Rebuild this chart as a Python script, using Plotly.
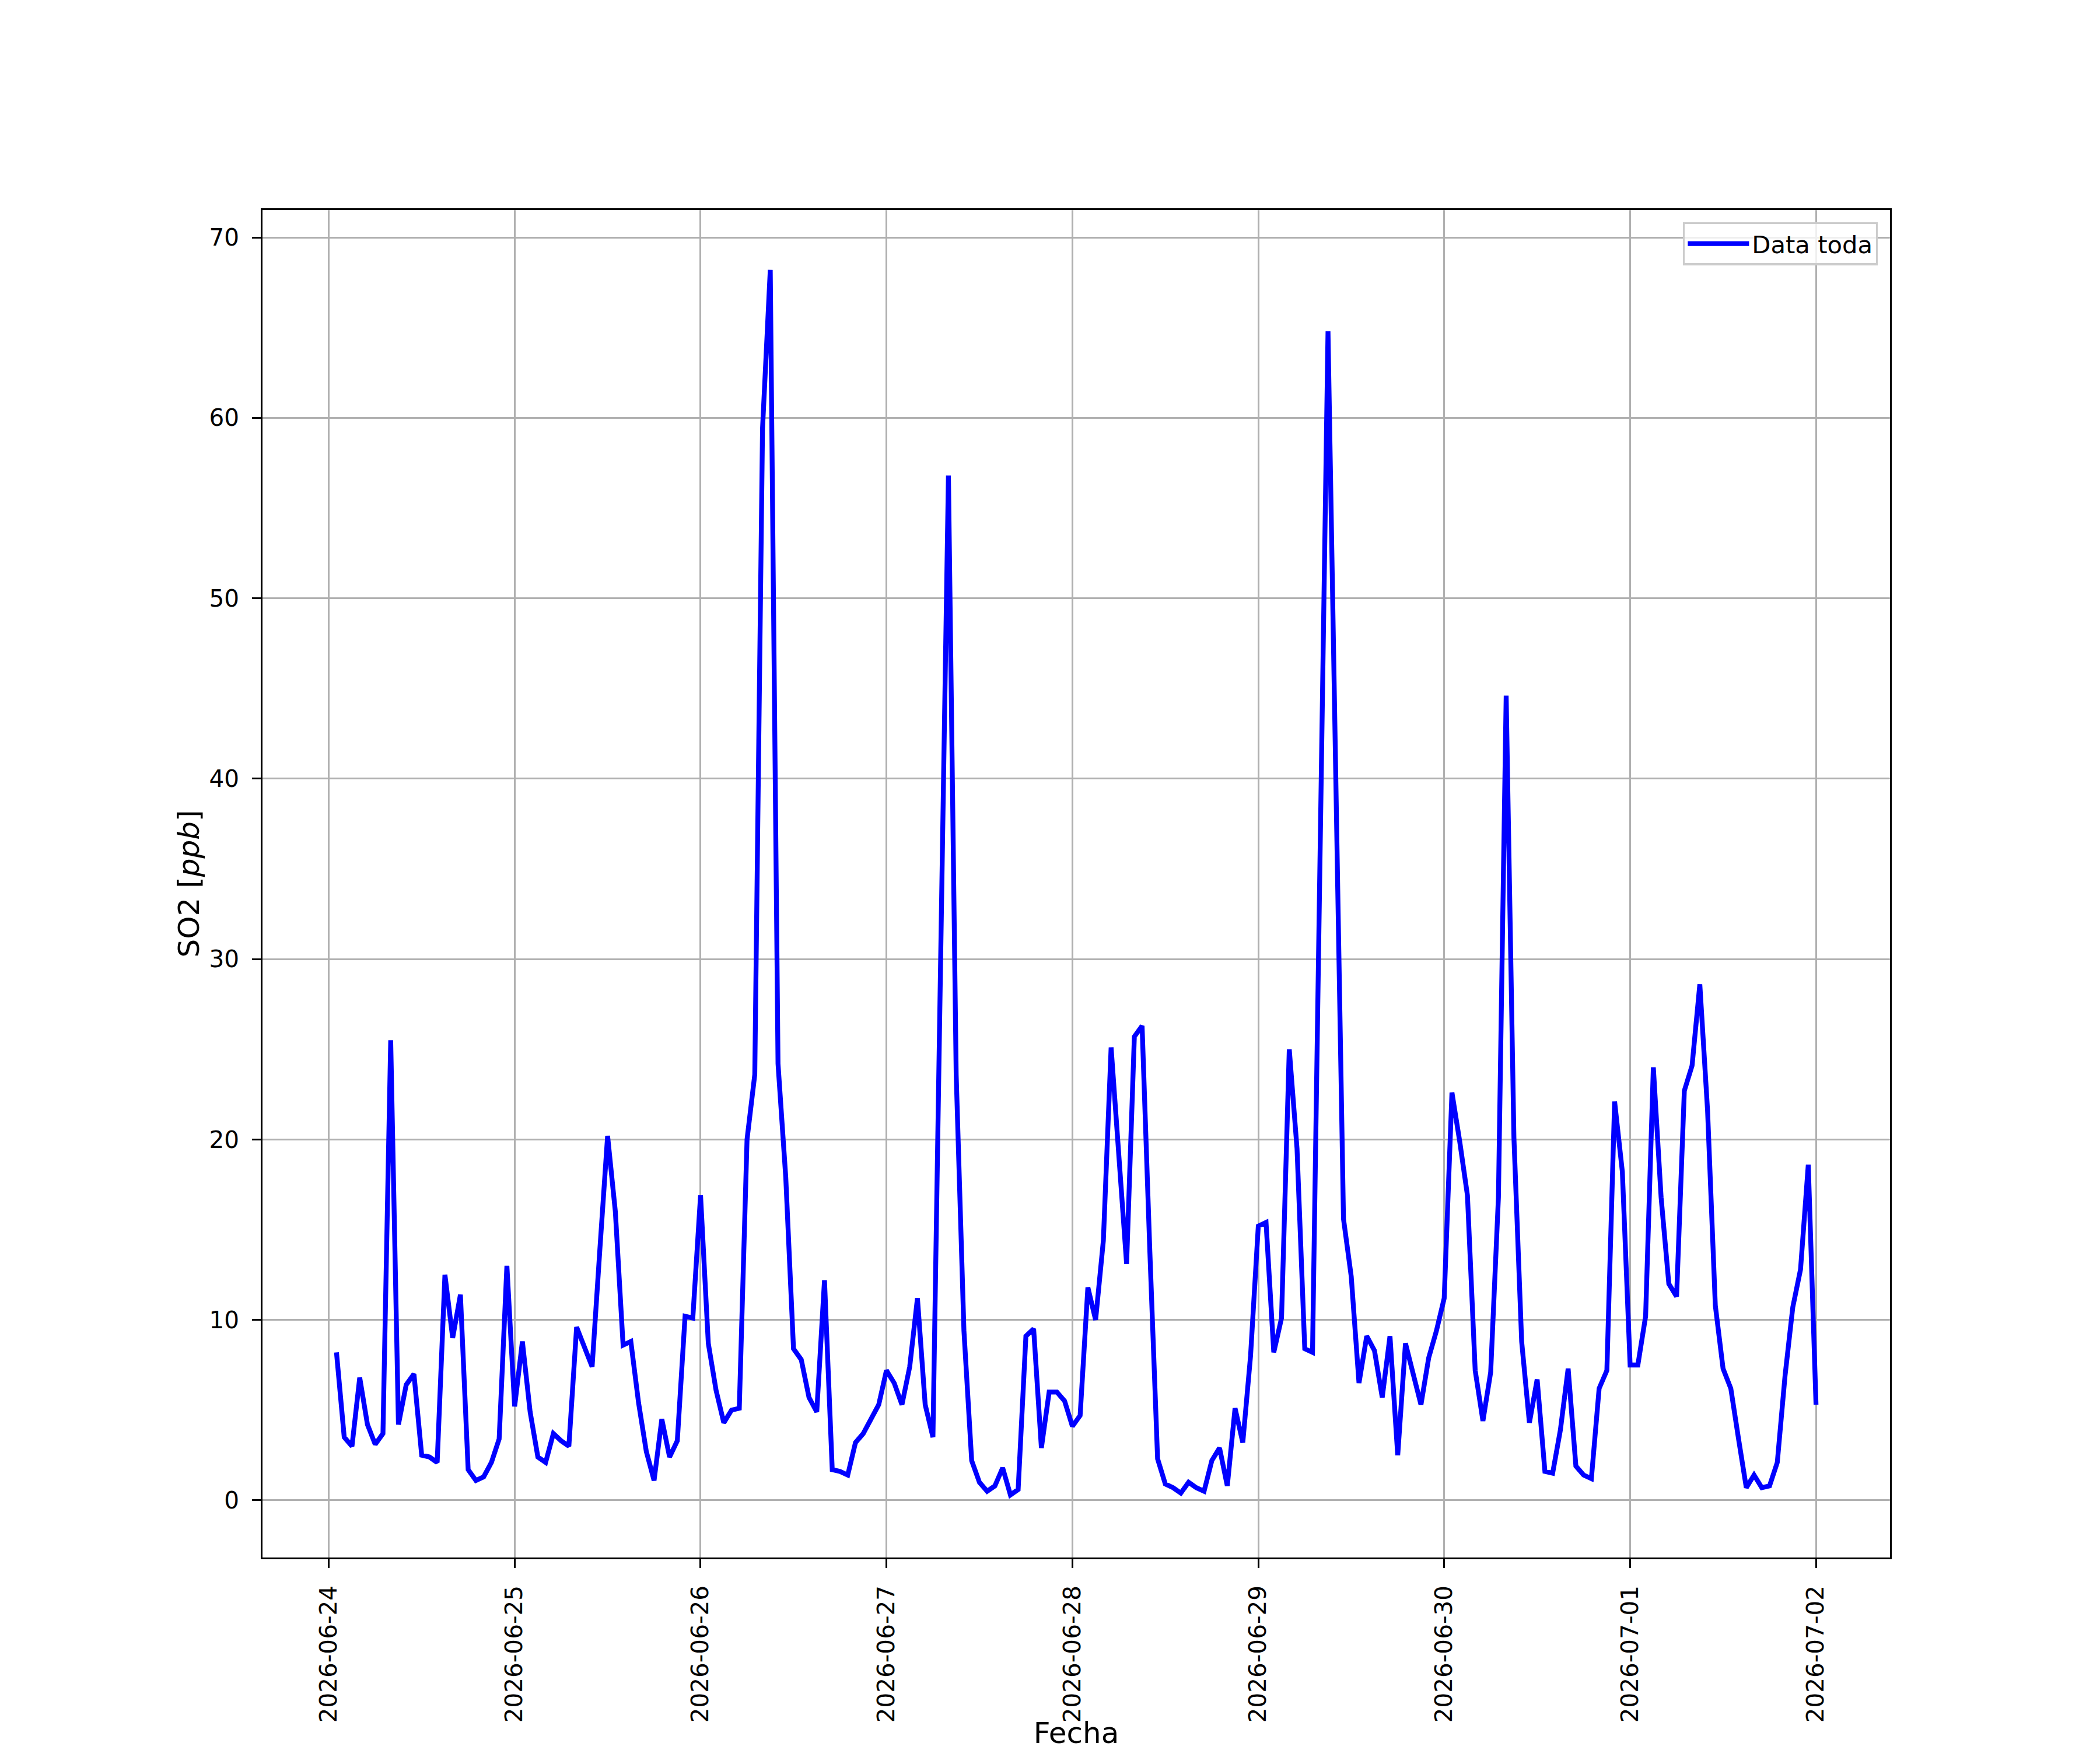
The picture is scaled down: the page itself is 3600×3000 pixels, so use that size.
import pandas as pd
import plotly.graph_objects as go

# hourly SO2 readings [ppb], first reading 2026-06-24 01:00
start_time = "2026-06-24 01:00"
so2_0624 = [8.2, 3.5, 3.0, 6.8, 4.2, 3.1, 3.7, 25.5, 4.2, 6.4, 7.0, 2.5,
            2.4, 2.1, 12.5, 9.0, 11.4, 1.7, 1.1, 1.3, 2.1, 3.4, 13.0]
so2_0625 = [5.2, 8.8, 4.9, 2.4, 2.1, 3.7, 3.3, 3.0, 9.6, 8.5, 7.4, 13.9,
            20.2, 16.0, 8.6, 8.8, 5.4, 2.7, 1.1, 4.5, 2.4, 3.3, 10.2, 10.1]
so2_0626 = [16.9, 8.7, 6.1, 4.3, 5.0, 5.1, 20.0, 23.6, 59.4, 68.2, 24.2, 17.9,
            8.4, 7.8, 5.7, 4.9, 12.2, 1.7, 1.6, 1.4, 3.2, 3.7, 4.5, 5.3]
so2_0627 = [7.2, 6.5, 5.3, 7.4, 11.2, 5.3, 3.5, 30.1, 56.8, 23.6, 9.4, 2.2,
            1.0, 0.5, 0.8, 1.8, 0.3, 0.6, 9.1, 9.5, 2.9, 6.0, 6.0, 5.5]
so2_0628 = [4.1, 4.7, 11.8, 10.0, 14.4, 25.1, 19.1, 13.1, 25.7, 26.3, 13.8, 2.3,
            0.9, 0.7, 0.4, 1.0, 0.7, 0.5, 2.2, 2.9, 0.8, 5.1, 3.2, 8.0]
so2_0629 = [15.2, 15.4, 8.2, 10.1, 25.0, 19.5, 8.4, 8.2, 36.5, 64.8, 40.2, 15.6,
            12.4, 6.5, 9.1, 8.3, 5.7, 9.1, 2.5, 8.7, 7.0, 5.3, 7.9, 9.4]
so2_0630 = [11.2, 22.6, 19.9, 16.9, 7.2, 4.4, 7.1, 16.8, 44.6, 20.1, 8.8, 4.3,
            6.7, 1.6, 1.5, 3.9, 7.3, 1.9, 1.4, 1.2, 6.2, 7.2, 22.1, 18.2]
so2_0701 = [7.5, 7.5, 10.2, 24.0, 16.8, 12.0, 11.3, 22.7, 24.1, 28.6, 21.6, 10.8,
            7.3, 6.2, 3.4, 0.7, 1.4, 0.7, 0.8, 2.1, 6.9, 10.7, 12.8, 18.6]
so2_0702 = [5.3]

day_ticks = ["2026-06-24", "2026-06-25", "2026-06-26", "2026-06-27", "2026-06-28",
             "2026-06-29", "2026-06-30", "2026-07-01", "2026-07-02"]
y_ticks = [0, 10, 20, 30, 40, 50, 60, 70]


def build_series():
    values = (so2_0624 + so2_0625 + so2_0626 + so2_0627 + so2_0628
              + so2_0629 + so2_0630 + so2_0701 + so2_0702)
    times = pd.date_range(start_time, periods=len(values), freq="h")
    return times, values


def make_figure(times, values):
    fig = go.Figure()
    fig.add_trace(go.Scatter(
        x=times, y=values, mode="lines", name="Data toda",
        line=dict(color="#0000ff", width=8.3),
    ))

    font = "DejaVu Sans"
    axis_common = dict(
        showline=True, mirror=True, linecolor="black", linewidth=3.3,
        showgrid=True, gridcolor="#b0b0b0", gridwidth=3.3,
        zeroline=False, ticks="outside", ticklen=14.6, tickwidth=3.3,
        tickcolor="black", ticklabelstandoff=14,
        tickfont=dict(family=font, size=40.5, color="black"),
    )

    # page body has an 8px margin, so the figure is offset by 8px
    fig.update_layout(
        width=3592, height=2992, autosize=False,
        margin=dict(l=442, r=360, t=352, b=330),
        paper_bgcolor="white", plot_bgcolor="white",
        xaxis=dict(
            range=["2026-06-23 15:27", "2026-07-02 09:33"],
            tickvals=day_ticks, ticktext=day_ticks, tickangle=-90,
            title=dict(text="Fecha", font=dict(family=font, size=50, color="black"),
                       standoff=20),
            automargin=False,
            **axis_common,
        ),
        yaxis=dict(
            range=[-3.17, 71.52], tickvals=y_ticks,
            title=dict(text="SO2 [<i>ppb</i>]",
                       font=dict(family=font, size=50, color="black"),
                       standoff=2),
            automargin=False,
            **axis_common,
        ),
        legend=dict(
            x=0.9925, y=0.991, xanchor="right", yanchor="top",
            bgcolor="rgba(255,255,255,0.8)", bordercolor="#cccccc", borderwidth=3.3,
            font=dict(family=font, size=41.7, color="black"),
            itemwidth=105,
        ),
        showlegend=True,
    )
    return fig


def main():
    times, values = build_series()
    fig = make_figure(times, values)
    fig.write_html("out.html")


if __name__ == "__main__":
    main()
